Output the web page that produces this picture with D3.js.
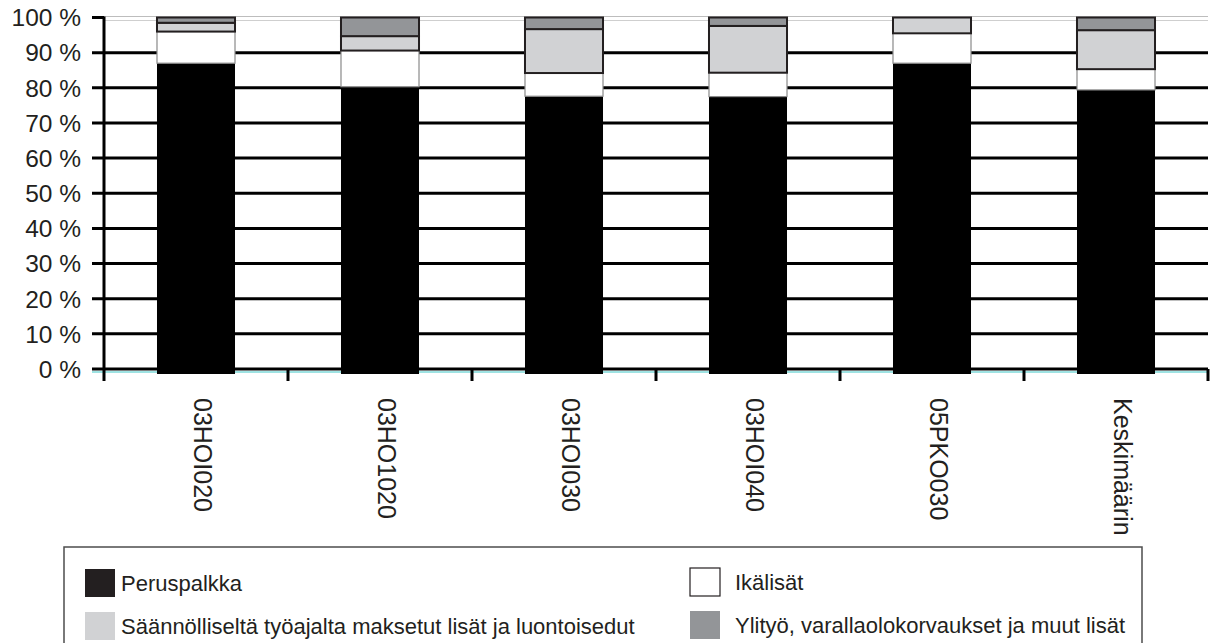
<!DOCTYPE html>
<html lang="fi">
<head>
<meta charset="UTF-8">
<title>Palkan rakenne</title>
<script src="https://d3js.org/d3.v7.min.js"></script>
<style>
    body { margin: 0; background: #fff; }
    svg { display: block; font-family: "Liberation Sans", Arial, sans-serif; }
    text { fill: #231f20; }
</style>
</head>
<body>
<svg width="1213" height="643"></svg>
<script>
    const categories = ["03HOI020", "03HO1020", "03HOI030", "03HOI040", "05PKO030", "Keskimäärin"];
    const peruspalkka = [87, 80.3, 77.6, 77.5, 87, 79.4];
    const ikalisat = [9, 10.3, 6.6, 6.8, 8.5, 5.9];
    const saannolliset = [2.5, 4.1, 12.5, 13.3, 4.5, 11.1];
    const ylityo = [1.5, 5.3, 3.3, 2.4, 0, 3.6];
    const yTicks = [0, 10, 20, 30, 40, 50, 60, 70, 80, 90, 100];

    const seriesNames = [
        "Peruspalkka",
        "Ikälisät",
        "Säännölliseltä työajalta maksetut lisät ja luontoisedut",
        "Ylityö, varallaolokorvaukset ja muut lisät"
    ];
    const keys = ["p", "i", "s", "y"];
    const fills = { p: "#000000", i: "#ffffff", s: "#d1d2d4", y: "#939598" };
    const strokes = { p: "none", i: "#8a8a8a", s: "#231f20", y: "#231f20" };

    const rows = categories.map((c, k) => ({
        cat: c, p: peruspalkka[k], i: ikalisat[k], s: saannolliset[k], y: ylityo[k]
    }));

    const svg = d3.select("svg");
    const plotLeft = 104, plotRight = 1208, plotTop = 17.5, plotBottom = 369;

    const x = d3.scaleBand().domain(categories).range([plotLeft, plotRight])
        .paddingInner(0.576).paddingOuter(0.288);
    const y = d3.scaleLinear().domain([0, 100]).range([plotBottom, plotTop]);

    // grid lines
    svg.append("g").selectAll("line")
        .data(yTicks.filter(t => t > 0 && t < 100))
        .join("line")
        .attr("x1", plotLeft - 12).attr("x2", plotRight)
        .attr("y1", d => y(d)).attr("y2", d => y(d))
        .attr("stroke", "#000").attr("stroke-width", 3);

    svg.append("line")
        .attr("x1", plotLeft).attr("x2", plotRight)
        .attr("y1", y(100) - 1).attr("y2", y(100) - 1)
        .attr("stroke", "#bdbdbd").attr("stroke-width", 1);
    svg.append("line")
        .attr("x1", plotLeft).attr("x2", plotRight)
        .attr("y1", y(100) + 3).attr("y2", y(100) + 3)
        .attr("stroke", "#cfcfcf").attr("stroke-width", 1);
    svg.append("line")
        .attr("x1", plotLeft - 12).attr("x2", plotLeft)
        .attr("y1", y(100)).attr("y2", y(100))
        .attr("stroke", "#000").attr("stroke-width", 3);

    // baseline
    svg.append("line")
        .attr("x1", plotLeft - 12).attr("x2", plotRight)
        .attr("y1", y(0)).attr("y2", y(0))
        .attr("stroke", "#000").attr("stroke-width", 3);
    svg.append("line")
        .attr("x1", plotLeft - 12).attr("x2", plotRight)
        .attr("y1", y(0) + 3).attr("y2", y(0) + 3)
        .attr("stroke", "#3fc6c6").attr("stroke-width", 1);

    // stacked bars
    const stack = d3.stack().keys(keys)(rows);
    svg.append("g").selectAll("g")
        .data(stack)
        .join("g")
        .attr("fill", d => fills[d.key])
        .attr("stroke", d => strokes[d.key])
        .attr("stroke-width", d => d.key === "i" ? 1.2 : 2)
        .selectAll("rect")
        .data(d => d.filter(s => s[1] - s[0] > 0))
        .join("rect")
        .attr("x", d => x(d.data.cat))
        .attr("width", x.bandwidth())
        .attr("y", d => y(d[1]))
        .attr("height", d => y(d[0]) - y(d[1]) + (d[0] === 0 ? 5 : 0));

    // y axis
    svg.append("line")
        .attr("x1", plotLeft).attr("x2", plotLeft)
        .attr("y1", y(100) - 1).attr("y2", y(0) + 12)
        .attr("stroke", "#000").attr("stroke-width", 3);

    svg.append("g").selectAll("text")
        .data(yTicks)
        .join("text")
        .attr("x", 81)
        .attr("y", d => y(d))
        .attr("dy", "0.36em")
        .attr("text-anchor", "end")
        .attr("font-size", 24.5)
        .text(d => d + " %");

    // x axis ticks at band boundaries
    const bounds = categories.map((c, k) => plotLeft + (k + 1) * x.step());
    svg.append("g").selectAll("line")
        .data(bounds)
        .join("line")
        .attr("x1", d => d).attr("x2", d => d)
        .attr("y1", y(0)).attr("y2", y(0) + 12)
        .attr("stroke", "#000").attr("stroke-width", 3);

    svg.append("g").selectAll("text")
        .data(categories)
        .join("text")
        .attr("transform", d => `translate(${x(d) + x.bandwidth() / 2 - 2},398) rotate(90)`)
        .attr("font-size", 25)
        .text(d => d);

    // legend
    svg.append("rect")
        .attr("x", 64).attr("y", 547)
        .attr("width", 1078).attr("height", 120)
        .attr("fill", "none").attr("stroke", "#4d4d4d").attr("stroke-width", 1.5);

    const legendPos = [
        { sx: 85, sy: 569, tx: 121, ty: 583 },
        { sx: 690, sy: 568, tx: 735, ty: 582 },
        { sx: 85, sy: 612, tx: 121, ty: 626 },
        { sx: 690, sy: 611, tx: 735, ty: 625 }
    ];
    const legend = svg.append("g").selectAll("g")
        .data(keys)
        .join("g");
    legend.append("rect")
        .attr("x", (d, k) => legendPos[k].sx)
        .attr("y", (d, k) => legendPos[k].sy)
        .attr("width", 30).attr("height", 28)
        .attr("fill", d => d === "p" ? "#231f20" : fills[d])
        .attr("stroke", d => d === "i" ? "#231f20" : "none")
        .attr("stroke-width", 1.2);
    legend.append("text")
        .attr("x", (d, k) => legendPos[k].tx)
        .attr("y", (d, k) => legendPos[k].ty)
        .attr("dy", "0.36em")
        .attr("font-size", 22)
        .text((d, k) => seriesNames[k]);
</script>
</body>
</html>
